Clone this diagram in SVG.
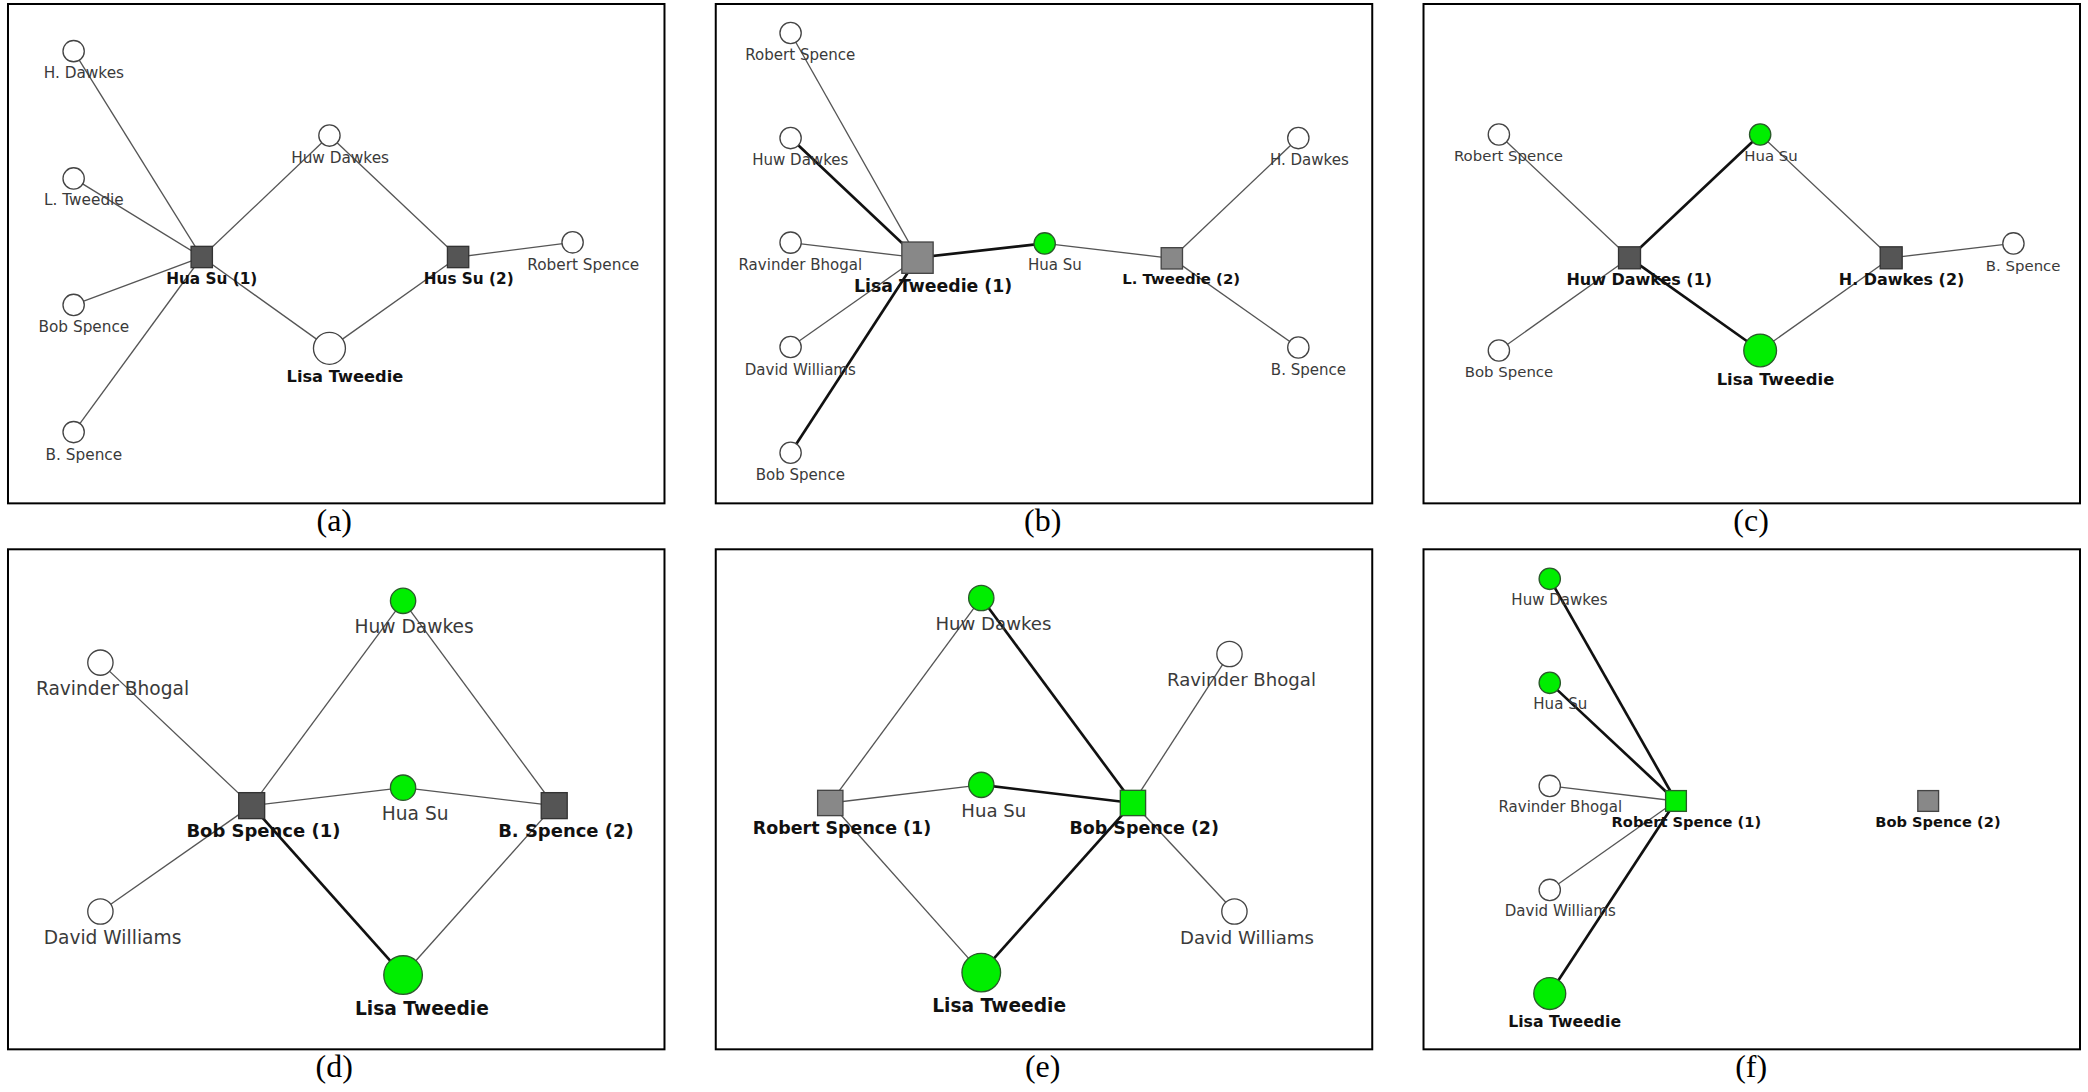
<svg xmlns="http://www.w3.org/2000/svg" width="2088" height="1092" viewBox="0 0 2088 1092">
<style>
.frame{fill:none;stroke:#000;stroke-width:1.5}
.e{stroke:#555;stroke-width:1;fill:none}
.t{stroke:#111;stroke-width:2;fill:none}
.cw{fill:#fff;stroke:#444;stroke-width:1}
.cg{fill:#00ee00;stroke:#2a5a2a;stroke-width:1}
.sd{fill:#555;stroke:#333;stroke-width:1}
.sm{fill:#888;stroke:#444;stroke-width:1}
.sg{fill:#00ee00;stroke:#2a5a2a;stroke-width:1}
text{font-family:"DejaVu Sans","Liberation Sans",sans-serif;text-anchor:middle}
.l{fill:#3a3a3a}
.b{fill:#111;font-weight:bold}
.cap{font-family:"Liberation Serif","Times New Roman",serif;font-size:24px;fill:#000}
</style>
<rect width="2088" height="1092" fill="#fff"/>
<g transform="scale(1.33163)">
<!-- frames and captions -->
<g id="frames">
<rect class="frame" x="6" y="3" width="493" height="375"/>
<rect class="frame" x="537.5" y="3" width="493" height="375"/>
<rect class="frame" x="1069" y="3" width="493" height="375"/>
<rect class="frame" x="6" y="412.5" width="493" height="375.5"/>
<rect class="frame" x="537.5" y="412.5" width="493" height="375.5"/>
<rect class="frame" x="1069" y="412.5" width="493" height="375.5"/>
<text class="cap" x="251" y="399">(a)</text>
<text class="cap" x="783" y="399">(b)</text>
<text class="cap" x="1315" y="399">(c)</text>
<text class="cap" x="251" y="809">(d)</text>
<text class="cap" x="783" y="809">(e)</text>
<text class="cap" x="1315" y="809">(f)</text>
</g>

<!-- ================= (a) ================= -->
<g id="edges-a">
<line class="e" x1="151.5" y1="193" x2="55.3" y2="38.4"/>
<line class="e" x1="151.5" y1="193" x2="55.3" y2="134"/>
<line class="e" x1="151.5" y1="193" x2="55.3" y2="229"/>
<line class="e" x1="151.5" y1="193" x2="55.3" y2="324.5"/>
<line class="e" x1="151.5" y1="193" x2="247.4" y2="101.8"/>
<line class="e" x1="151.5" y1="193" x2="247.4" y2="261.6"/>
<line class="e" x1="344" y1="193" x2="247.4" y2="101.8"/>
<line class="e" x1="344" y1="193" x2="247.4" y2="261.6"/>
<line class="e" x1="344" y1="193" x2="430" y2="182"/>
</g>
<g font-size="11.5">
<g id="a-hdawkes"><circle class="cw" cx="55.3" cy="38.4" r="8"/><text class="l" x="63" y="58.8">H. Dawkes</text></g>
<g id="a-ltweedie"><circle class="cw" cx="55.3" cy="134" r="8"/><text class="l" x="63" y="154.1">L. Tweedie</text></g>
<g id="a-bobspence"><circle class="cw" cx="55.3" cy="229" r="8"/><text class="l" x="63" y="249.6">Bob Spence</text></g>
<g id="a-bspence"><circle class="cw" cx="55.3" cy="324.5" r="8"/><text class="l" x="63" y="345.6">B. Spence</text></g>
<g id="a-huasu1"><rect class="sd" x="143.5" y="185" width="16" height="16"/><text class="b" x="159" y="213.1">Hua Su (1)</text></g>
<g id="a-huwdawkes"><circle class="cw" cx="247.4" cy="101.8" r="8"/><text class="l" x="255.4" y="122.1">Huw Dawkes</text></g>
<g id="a-lisa"><circle class="cw" cx="247.4" cy="261.6" r="12"/><text class="b" x="259" y="287.2" font-size="12.2">Lisa Tweedie</text></g>
<g id="a-hussu2"><rect class="sd" x="336" y="185" width="16" height="16"/><text class="b" x="352" y="213.1">Hus Su (2)</text></g>
<g id="a-robertspence"><circle class="cw" cx="430" cy="182" r="8"/><text class="l" x="438" y="203.1">Robert Spence</text></g>
</g>

<!-- ================= (b) ================= -->
<g id="edges-b">
<line class="e" x1="689" y1="193.5" x2="593.7" y2="24.8"/>
<line class="t" x1="689" y1="193.5" x2="593.7" y2="103.7"/>
<line class="e" x1="689" y1="193.5" x2="593.7" y2="182.2"/>
<line class="e" x1="689" y1="193.5" x2="593.7" y2="260.6"/>
<line class="t" x1="689" y1="193.5" x2="593.7" y2="340"/>
<line class="t" x1="689" y1="193.5" x2="784.5" y2="182.8"/>
<line class="e" x1="784.5" y1="182.8" x2="880" y2="194"/>
<line class="e" x1="880" y1="194" x2="975" y2="103.7"/>
<line class="e" x1="880" y1="194" x2="975" y2="261"/>
</g>
<g font-size="11.3">
<g id="b-robertspence"><circle class="cw" cx="593.7" cy="24.8" r="8"/><text class="l" x="601" y="45.1">Robert Spence</text></g>
<g id="b-huwdawkes"><circle class="cw" cx="593.7" cy="103.7" r="8"/><text class="l" x="601" y="123.9">Huw Dawkes</text></g>
<g id="b-ravinder"><circle class="cw" cx="593.7" cy="182.2" r="8"/><text class="l" x="601" y="203.1">Ravinder Bhogal</text></g>
<g id="b-david"><circle class="cw" cx="593.7" cy="260.6" r="8"/><text class="l" x="601" y="281.6">David Williams</text></g>
<g id="b-bobspence"><circle class="cw" cx="593.7" cy="340" r="8"/><text class="l" x="601" y="360.8">Bob Spence</text></g>
<g id="b-lisa1"><rect class="sm" x="677.25" y="181.75" width="23.5" height="23.5"/><text class="b" x="700.7" y="219.6" font-size="13">Lisa Tweedie (1)</text></g>
<g id="b-huasu"><circle class="cg" cx="784.5" cy="182.8" r="8"/><text class="l" x="792.2" y="203.1">Hua Su</text></g>
<g id="b-ltweedie2"><rect class="sm" x="872" y="186" width="16" height="16"/><text class="b" x="887" y="213.4" font-size="11.2">L. Tweedie (2)</text></g>
<g id="b-hdawkes"><circle class="cw" cx="975" cy="103.7" r="8"/><text class="l" x="983.3" y="123.9">H. Dawkes</text></g>
<g id="b-bspence"><circle class="cw" cx="975" cy="261" r="8"/><text class="l" x="982.6" y="281.6">B. Spence</text></g>
</g>

<!-- ================= (c) ================= -->
<g id="edges-c">
<line class="e" x1="1223.7" y1="193.6" x2="1125.6" y2="101"/>
<line class="e" x1="1223.7" y1="193.6" x2="1125.6" y2="263.2"/>
<line class="t" x1="1223.7" y1="193.6" x2="1321.8" y2="101"/>
<line class="t" x1="1223.7" y1="193.6" x2="1321.8" y2="263.2"/>
<line class="e" x1="1420.2" y1="193.6" x2="1321.8" y2="101"/>
<line class="e" x1="1420.2" y1="193.6" x2="1321.8" y2="263.2"/>
<line class="e" x1="1420.2" y1="193.6" x2="1512" y2="182.8"/>
</g>
<g font-size="11.2">
<g id="c-robertspence"><circle class="cw" cx="1125.6" cy="101" r="8"/><text class="l" x="1132.8" y="121.2">Robert Spence</text></g>
<g id="c-huasu"><circle class="cg" cx="1321.8" cy="101" r="8"/><text class="l" x="1330" y="121.2">Hua Su</text></g>
<g id="c-huwdawkes1"><rect class="sd" x="1215.45" y="185.35" width="16.5" height="16.5"/><text class="b" x="1231" y="214" font-size="12">Huw Dawkes (1)</text></g>
<g id="c-hdawkes2"><rect class="sd" x="1411.95" y="185.35" width="16.5" height="16.5"/><text class="b" x="1428" y="214" font-size="12">H. Dawkes (2)</text></g>
<g id="c-bspence"><circle class="cw" cx="1512" cy="182.8" r="8"/><text class="l" x="1519.3" y="203.3">B. Spence</text></g>
<g id="c-bobspence"><circle class="cw" cx="1125.6" cy="263.2" r="8"/><text class="l" x="1133.2" y="283.4">Bob Spence</text></g>
<g id="c-lisa"><circle class="cg" cx="1321.8" cy="263.2" r="12.3"/><text class="b" x="1333.3" y="289" font-size="12.3">Lisa Tweedie</text></g>
</g>

<!-- ================= (d) ================= -->
<g id="edges-d">
<line class="e" x1="189" y1="605" x2="75.4" y2="497.6"/>
<line class="e" x1="189" y1="605" x2="75.4" y2="684.5"/>
<line class="e" x1="189" y1="605" x2="302.7" y2="451.2"/>
<line class="e" x1="189" y1="605" x2="302.7" y2="591.5"/>
<line class="t" x1="189" y1="605" x2="302.7" y2="732.2"/>
<line class="e" x1="416.2" y1="605" x2="302.7" y2="451.2"/>
<line class="e" x1="416.2" y1="605" x2="302.7" y2="591.5"/>
<line class="e" x1="416.2" y1="605" x2="302.7" y2="732.2"/>
</g>
<g font-size="14">
<g id="d-huwdawkes"><circle class="cg" cx="302.7" cy="451.2" r="9.5"/><text class="l" x="311" y="475.1">Huw Dawkes</text></g>
<g id="d-ravinder"><circle class="cw" cx="75.4" cy="497.6" r="9.5"/><text class="l" x="84.5" y="521.8">Ravinder Bhogal</text></g>
<g id="d-huasu"><circle class="cg" cx="302.7" cy="591.5" r="9.5"/><text class="l" x="311.8" y="615.6">Hua Su</text></g>
<g id="d-bobspence1"><rect class="sd" x="179.25" y="595.25" width="19.5" height="19.5"/><text class="b" x="197.8" y="628.6" font-size="13.5">Bob Spence (1)</text></g>
<g id="d-bspence2"><rect class="sd" x="406.45" y="595.25" width="19.5" height="19.5"/><text class="b" x="425" y="628.6" font-size="13.5">B. Spence (2)</text></g>
<g id="d-david"><circle class="cw" cx="75.4" cy="684.5" r="9.5"/><text class="l" x="84.5" y="709.2">David Williams</text></g>
<g id="d-lisa"><circle class="cg" cx="302.7" cy="732.2" r="14.5"/><text class="b" x="316.8" y="762.4">Lisa Tweedie</text></g>
</g>

<!-- ================= (e) ================= -->
<g id="edges-e">
<line class="e" x1="623.5" y1="603" x2="736.9" y2="449.1"/>
<line class="e" x1="623.5" y1="603" x2="736.9" y2="589.4"/>
<line class="e" x1="623.5" y1="603" x2="736.9" y2="730.4"/>
<line class="t" x1="850.8" y1="603" x2="736.9" y2="449.1"/>
<line class="t" x1="850.8" y1="603" x2="736.9" y2="589.4"/>
<line class="t" x1="850.8" y1="603" x2="736.9" y2="730.4" stroke-width="2.6"/>
<line class="e" x1="850.8" y1="603" x2="923.3" y2="491.1"/>
<line class="e" x1="850.8" y1="603" x2="927" y2="684.5"/>
</g>
<g font-size="13.6">
<g id="e-huwdawkes"><circle class="cg" cx="736.9" cy="449.1" r="9.5"/><text class="l" x="746" y="473.2">Huw Dawkes</text></g>
<g id="e-ravinder"><circle class="cw" cx="923.3" cy="491.1" r="9.5"/><text class="l" x="932.3" y="515.1">Ravinder Bhogal</text></g>
<g id="e-huasu"><circle class="cg" cx="736.9" cy="589.4" r="9.5"/><text class="l" x="746.3" y="613.4">Hua Su</text></g>
<g id="e-robertspence1"><rect class="sm" x="614" y="593.5" width="19" height="19"/><text class="b" x="632.3" y="626.3" font-size="13.1">Robert Spence (1)</text></g>
<g id="e-bobspence2"><rect class="sg" x="841.3" y="593.5" width="19" height="19"/><text class="b" x="859.3" y="626.3" font-size="13.1">Bob Spence (2)</text></g>
<g id="e-david"><circle class="cw" cx="927" cy="684.5" r="9.5"/><text class="l" x="936.4" y="709.1">David Williams</text></g>
<g id="e-lisa"><circle class="cg" cx="736.9" cy="730.4" r="14.5"/><text class="b" x="750.3" y="760.3" font-size="14">Lisa Tweedie</text></g>
</g>

<!-- ================= (f) ================= -->
<g id="edges-f">
<line class="t" x1="1258.6" y1="601.5" x2="1163.8" y2="434.7"/>
<line class="t" x1="1258.6" y1="601.5" x2="1163.8" y2="512.8"/>
<line class="e" x1="1258.6" y1="601.5" x2="1163.8" y2="590.2"/>
<line class="e" x1="1258.6" y1="601.5" x2="1163.8" y2="668.3"/>
<line class="t" x1="1258.6" y1="601.5" x2="1163.8" y2="746.1" stroke-width="2.6"/>
</g>
<g font-size="11.3">
<g id="f-huwdawkes"><circle class="cg" cx="1163.8" cy="434.7" r="8"/><text class="l" x="1171.1" y="454.6">Huw Dawkes</text></g>
<g id="f-huasu"><circle class="cg" cx="1163.8" cy="512.8" r="8"/><text class="l" x="1171.7" y="532.7">Hua Su</text></g>
<g id="f-ravinder"><circle class="cw" cx="1163.8" cy="590.2" r="8"/><text class="l" x="1171.7" y="610">Ravinder Bhogal</text></g>
<g id="f-robertspence1"><rect class="sg" x="1250.8" y="593.7" width="15.6" height="15.6"/><text class="b" x="1266.4" y="621.2" font-size="11">Robert Spence (1)</text></g>
<g id="f-bobspence2"><rect class="sm" x="1440.2" y="593.7" width="15.6" height="15.6"/><text class="b" x="1455.3" y="621.2" font-size="11">Bob Spence (2)</text></g>
<g id="f-david"><circle class="cw" cx="1163.8" cy="668.3" r="8"/><text class="l" x="1171.7" y="688.1">David Williams</text></g>
<g id="f-lisa"><circle class="cg" cx="1163.8" cy="746.1" r="12"/><text class="b" x="1175" y="771.3" font-size="11.8">Lisa Tweedie</text></g>
</g>
</g>
</svg>
